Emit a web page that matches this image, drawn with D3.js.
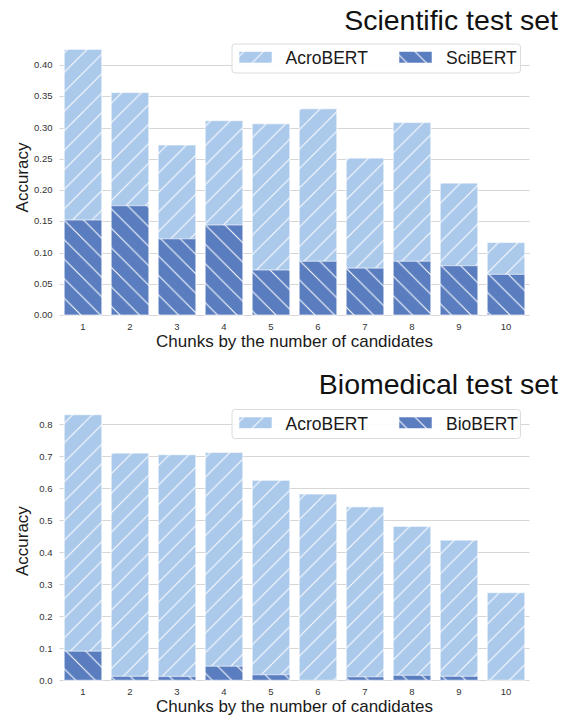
<!DOCTYPE html>
<html>
<head>
<meta charset="utf-8">
<script src="https://cdn.jsdelivr.net/npm/d3@7/dist/d3.min.js"></script>
<style>
  html, body { margin: 0; padding: 0; background: #fff; }
  svg { display: block; font-family: "Liberation Sans", Arial, Helvetica, sans-serif; }
</style>
</head>
<body>
<svg id="chart" width="570" height="717"></svg>
<script>
// ---- data ----
const categories = ["1", "2", "3", "4", "5", "6", "7", "8", "9", "10"];
const sciAcroBERT = [0.425, 0.356, 0.272, 0.311, 0.306, 0.330, 0.251, 0.308, 0.211, 0.116];
const sciSciBERT  = [0.152, 0.175, 0.122, 0.144, 0.072, 0.086, 0.075, 0.086, 0.079, 0.065];
const bioAcroBERT = [0.830, 0.710, 0.705, 0.712, 0.625, 0.582, 0.542, 0.481, 0.438, 0.274];
const bioBioBERT  = [0.091, 0.0125, 0.012, 0.044, 0.0175, 0.0, 0.011, 0.0156, 0.0125, 0.0];
const sciTicks = [0, 0.05, 0.10, 0.15, 0.20, 0.25, 0.30, 0.35, 0.40];
const bioTicks = [0, 0.1, 0.2, 0.3, 0.4, 0.5, 0.6, 0.7, 0.8];

const svg = d3.select("#chart");
const LIGHT = "#abc9eb", DARK = "#5a7dc0";
const P = 19.5;

// hatch patterns
const defs = svg.append("defs");
function hatch(id, color, dir) {
  const p = defs.append("pattern").attr("id", id).attr("patternUnits", "userSpaceOnUse")
    .attr("width", P).attr("height", P);
  p.append("rect").attr("width", P).attr("height", P).attr("fill", color);
  const d = dir === "/"
    ? `M${-P/2},${P/2} L${P/2},${-P/2} M0,${P} L${P},0 M${P/2},${P*1.5} L${P*1.5},${P/2}`
    : `M${-P/2},${P/2} L${P/2},${P*1.5} M0,0 L${P},${P} M${P/2},${-P/2} L${P*1.5},${P/2}`;
  p.append("path").attr("d", d).attr("stroke", "#ffffff").attr("stroke-width", 1).attr("fill", "none");
}
hatch("hLight", LIGHT, "/");
hatch("hDark", DARK, "\\");

function panel(cfg) {
  const g = svg.append("g");
  const x = d3.scaleBand().domain(categories).range([59.5, 529.5]).paddingInner(0.2).paddingOuter(0.1);
  const y = d3.scaleLinear().domain(cfg.yDomain).range([cfg.y0, cfg.yTop]);

  // gridlines
  g.append("g").selectAll("line").data(cfg.ticks).join("line")
    .attr("x1", 59.5).attr("x2", 529.5)
    .attr("y1", d => Math.round(y(d)) + 0.5).attr("y2", d => Math.round(y(d)) + 0.5)
    .attr("stroke", "#d6d6d6").attr("stroke-width", 1.1);

  // y tick labels
  g.append("g").selectAll("text").data(cfg.ticks).join("text")
    .attr("x", 52.5).attr("y", d => y(d)).attr("dy", "0.34em")
    .attr("text-anchor", "end").attr("font-size", 9.5).attr("fill", "#333")
    .text(d => d3.format(cfg.fmt)(d));

  // x tick labels
  g.append("g").selectAll("text").data(categories).join("text")
    .attr("x", d => x(d) + x.bandwidth() / 2).attr("y", cfg.y0 + 15)
    .attr("text-anchor", "middle").attr("font-size", 9.5).attr("fill", "#333")
    .text(d => d);

  // bars
  const bars = [{vals: cfg.a, fill: "url(#hLight)"}, {vals: cfg.b, fill: "url(#hDark)"}];
  bars.forEach(s => {
    g.append("g").selectAll("rect").data(categories).join("rect")
      .attr("x", d => x(d)).attr("width", x.bandwidth())
      .attr("y", (d, i) => y(s.vals[i]))
      .attr("height", (d, i) => y(0) - y(s.vals[i]))
      .attr("fill", s.fill)
      .attr("stroke", "rgba(255,255,255,0.55)").attr("stroke-width", 1.2);
  });

  // axis labels
  g.append("text").attr("transform", `translate(28,${(cfg.y0 + cfg.yTop) / 2}) rotate(-90)`)
    .attr("text-anchor", "middle").attr("font-size", 17).attr("fill", "#1a1a1a").text("Accuracy");
  g.append("text").attr("x", 294.5).attr("y", cfg.y0 + 32)
    .attr("text-anchor", "middle").attr("font-size", 17).attr("fill", "#1a1a1a")
    .text("Chunks by the number of candidates");

  // title
  g.append("text").attr("x", 558).attr("y", cfg.titleY).attr("text-anchor", "end")
    .attr("font-size", 28.5).attr("fill", "#111").text(cfg.title);

  // legend
  const lg = g.append("g").attr("transform", `translate(232,${cfg.legY})`);
  lg.append("rect").attr("x", 0).attr("y", 0).attr("width", 288.5).attr("height", 29).attr("rx", 3)
    .attr("fill", "rgba(255,255,255,0.9)").attr("stroke", "#dcdcdc").attr("stroke-width", 1);
  const items = [{name: "AcroBERT", fill: "url(#hLight)", px: 7, tx: 53.5},
                 {name: cfg.bName, fill: "url(#hDark)", px: 167, tx: 214}];
  items.forEach(it => {
    lg.append("rect").attr("x", it.px).attr("y", 7.5).attr("width", 33).attr("height", 11.5)
      .attr("fill", it.fill).attr("stroke", "rgba(255,255,255,0.55)").attr("stroke-width", 1);
    lg.append("text").attr("x", it.tx).attr("y", 20).attr("font-size", 17.5).attr("fill", "#1a1a1a").text(it.name);
  });
}

panel({a: sciAcroBERT, b: sciSciBERT, bName: "SciBERT", ticks: sciTicks, fmt: ".2f",
       yDomain: [0, 0.44], y0: 315, yTop: 315 - 0.44 * 625, title: "Scientific test set", titleY: 30, legY: 44});
panel({a: bioAcroBERT, b: bioBioBERT, bName: "BioBERT", ticks: bioTicks, fmt: ".1f",
       yDomain: [0, 0.87], y0: 680.3, yTop: 680.3 - 0.87 * 320, title: "Biomedical test set", titleY: 393.5, legY: 409.5});
</script>
</body>
</html>
